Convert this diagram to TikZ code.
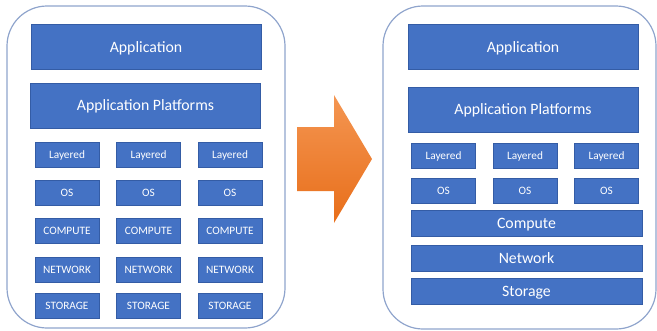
\documentclass[tikz,border=0pt]{standalone}
\usepackage{fontspec}
\setmainfont{Carlito}
\usetikzlibrary{positioning}
\definecolor{boxblue}{RGB}{68,114,196}
\definecolor{boxedge}{RGB}{52,92,165}
\definecolor{framegray}{RGB}{143,164,204}
\definecolor{arrowlight}{RGB}{244,150,82}
\definecolor{arrowdark}{RGB}{232,110,26}

\begin{document}
\begin{tikzpicture}[x=1pt, y=-1pt,
    frame/.style={draw=framegray, line width=1.2pt, rounded corners=40pt},
    box/.style={draw=boxedge, line width=0.6pt, fill=boxblue, text=white, inner sep=0pt, text depth=0pt},
    bigbox/.style={box, minimum width=230pt, minimum height=45pt, text height=10.2pt, font=\fontsize{15.8}{18}\selectfont},
    smallbox/.style={box, minimum width=64pt, minimum height=25pt, text height=7.3pt, font=\fontsize{11.3}{13}\selectfont},
    widebox/.style={box, minimum width=231pt, minimum height=26pt, text height=10.2pt, font=\fontsize{15.8}{18}\selectfont}]
    \useasboundingbox (0,0) rectangle (657,330);

    % before: every stack has its own layers
    \draw[frame] (7,6) rectangle (285,328);
    \node[bigbox] (lapp) at (146,47) {Application};
    \node[bigbox] (lplat) at (145.5,105.5) {Application Platforms};
    \foreach \x/\i in {67/1, 148.5/2, 230/3} {
        \node[smallbox] (llay\i) at (\x,154.5) {Layered};
        \node[smallbox] (los\i) at (\x,192.5) {OS};
        \node[smallbox] (lcomp\i) at (\x,230.5) {COMPUTE};
        \node[smallbox] (lnet\i) at (\x,269.5) {NETWORK};
        \node[smallbox] (lstor\i) at (\x,305.5) {STORAGE};
    }

    % arrow
    \shade[top color=arrowlight, bottom color=arrowdark]
        (297,127) -- (334,127) -- (334,95) -- (372,159) -- (334,223)
        -- (334,191) -- (297,191) -- cycle;

    % after: shared infrastructure
    \draw[frame] (383,6) rectangle (656,329);
    \node[bigbox] (rapp) at (523,47) {Application};
    \node[bigbox] (rplat) at (523,109.5) {Application Platforms};
    \foreach \x/\i in {443.5/1, 525/2, 606.5/3} {
        \node[smallbox] (rlay\i) at (\x,155.5) {Layered};
        \node[smallbox] (ros\i) at (\x,190.5) {OS};
    }
    \node[widebox] (rcomp) at (526.5,223) {Compute};
    \node[widebox] (rnet) at (526.5,258) {Network};
    \node[widebox] (rstor) at (526.5,291) {Storage};
\end{tikzpicture}
\end{document}
